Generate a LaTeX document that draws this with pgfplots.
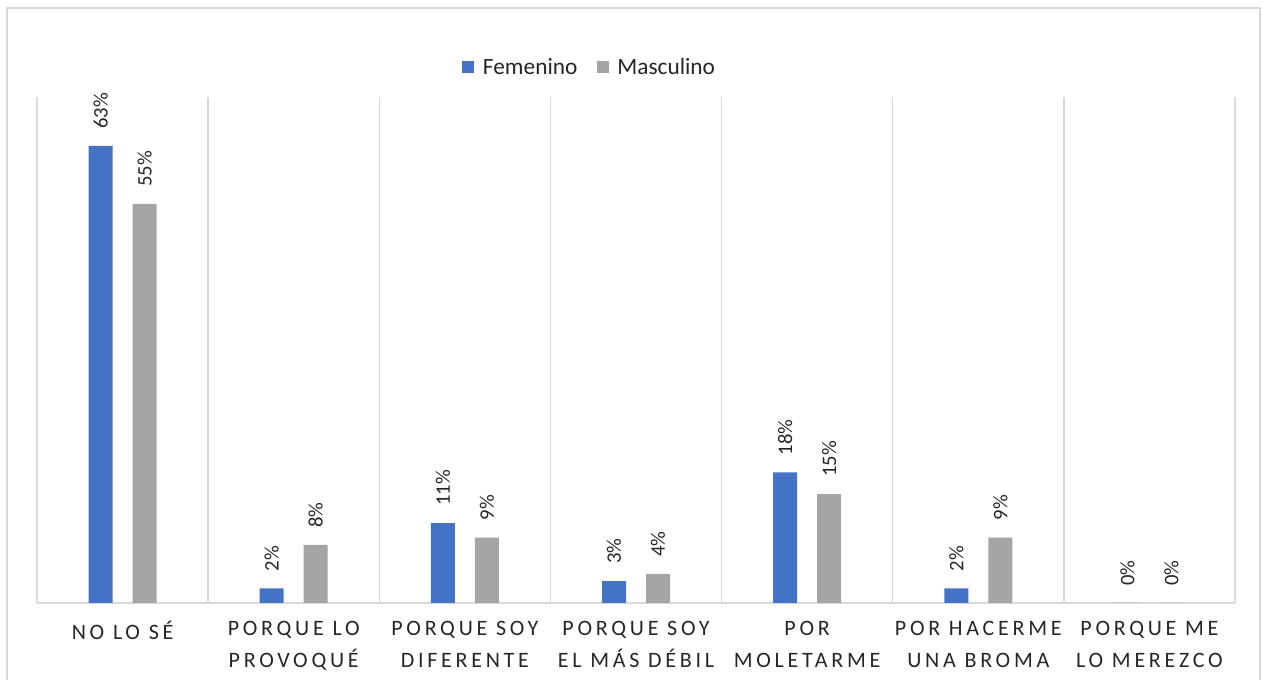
\documentclass[border=0pt]{standalone}
\usepackage{pgfplots}
\pgfplotsset{compat=1.18}
\usepackage{fontspec}
\setmainfont{Carlito}
\newfontfamily\spaced[LetterSpace=17]{Carlito}
\definecolor{fem}{HTML}{4472C4}
\definecolor{mas}{HTML}{A5A5A5}
\definecolor{gridc}{HTML}{D9D9D9}
\definecolor{txt}{HTML}{262626}
\begin{document}
\begin{tikzpicture}
\begin{axis}[
  scale only axis,
  width=898.5pt, height=379.5pt,
  at={(0,0)}, anchor=south west,
  ybar=15pt, bar width=18pt,
  xmin=-0.5, xmax=6.5, ymin=0, ymax=69.75,
  axis y line=none, axis x line*=bottom,
  x axis line style={draw=gridc, line width=1pt, -},
  xtick={0,1,2,3,4,5,6},
  xticklabels={{NO LO SÉ},{PORQUE LO\\PROVOQUÉ},{PORQUE SOY\\DIFERENTE},{PORQUE SOY\\EL MÁS DÉBIL},{POR\\MOLETARME},{POR HACERME\\UNA BROMA},{PORQUE ME\\LO MEREZCO}},
  xticklabel style={align=center, text=txt, font=\spaced\fontsize{16.5pt}{24pt}\selectfont, yshift=-10pt},
  minor xtick={-0.5,0.5,...,6.5},
  xminorgrids,
  minor grid style={draw=gridc, line width=1pt},
  major tick length=0pt, minor tick length=0pt,
  /pgf/number format/assume math mode=true,
  nodes near coords={\pgfmathprintnumber{\pgfplotspointmeta}\%},
  every node near coord/.append style={rotate=90, anchor=west, inner xsep=12.75pt, inner ysep=0pt, text=txt, font=\fontsize{15.5pt}{18pt}\selectfont},
  legend style={draw=none, at={(rel axis cs:0.3548,1.059)}, anchor=west, legend columns=2, inner sep=0pt,
    nodes={inner xsep=6.5pt, inner ysep=0pt},
    font=\fontsize{17.5pt}{20pt}\selectfont, text=txt,
    /tikz/every even column/.append style={column sep=8pt}},
  legend cell align=left,
  legend image code/.code={\fill[#1, draw=none] (0pt,-4.5pt) rectangle (9pt,4.5pt);},
]
\addplot[fill=fem, draw=none] coordinates {(0,63) (1,2) (2,11) (3,3) (4,18) (5,2) (6,0)};
\addlegendentry{Femenino}
\addplot[fill=mas, draw=none] coordinates {(0,55) (1,8) (2,9) (3,4) (4,15) (5,9) (6,0)};
\addlegendentry{Masculino}
\end{axis}
\draw[gridc, line width=1.1pt] (-22.5pt,-57.75pt) -- (-22.5pt,446.25pt) -- (917.25pt,446.25pt) -- (917.25pt,-57.75pt);
\useasboundingbox (-27.75pt,-57.75pt) rectangle (919.5pt,452.25pt);
\end{tikzpicture}
\end{document}
